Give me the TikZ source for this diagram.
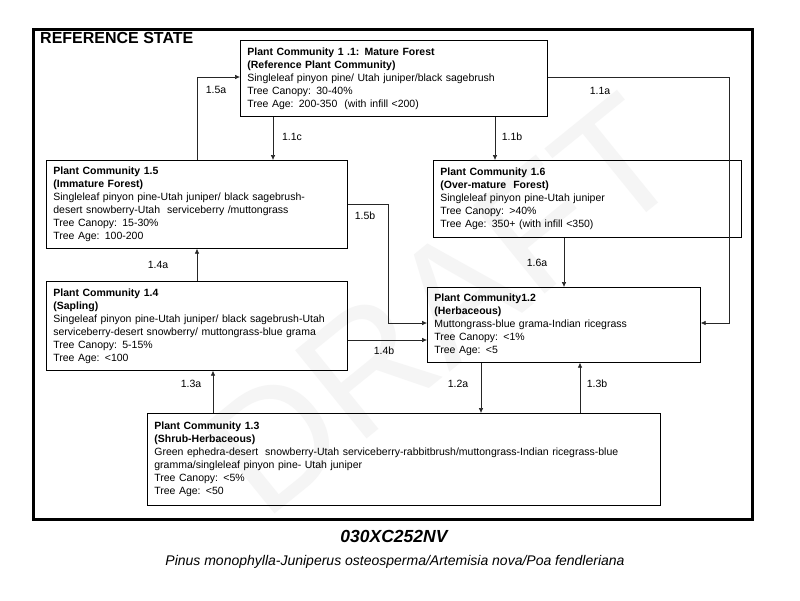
\documentclass[tikz,border=0pt]{standalone}
\usepackage{fontspec}
\setmainfont{Liberation Sans}
\usetikzlibrary{arrows.meta}
\begin{document}
\begin{tikzpicture}[x=1pt,y=-1pt,
  box/.style={draw=black,line width=0.7pt,rectangle,inner xsep=7pt,inner ysep=2pt,
    align=left,anchor=north west,font=\fontsize{10.5}{13}\selectfont},
  arr/.style={draw=black!85,line width=0.6pt,-{Latex[length=5pt,width=4.5pt]}},
  lbl/.style={font=\fontsize{10.5}{12}\selectfont,inner sep=0pt},
  frame/.style={draw=black,line width=3pt}]
\useasboundingbox (0,0) rectangle (800,600);
\fill[white] (0,0) rectangle (800,600);
% watermark
\node[rotate=39,font=\fontsize{165}{165}\selectfont,text=black!4,inner sep=0pt] (wm) at (442,305) {DRAFT};
% frame
\draw[frame] (33,29) rectangle (752,519);
\node[font=\fontsize{16}{16}\selectfont\bfseries,anchor=west,inner sep=0pt] (title) at (40,38) {REFERENCE STATE};
% boxes
\node[box,text width=293pt,minimum height=76pt] (n11) at (240,40)
 {\textbf{Plant Community 1 .1: Mature Forest}\\\textbf{(Reference Plant Community)}\\Singleleaf pinyon pine/ Utah juniper/black sagebrush\\Tree Canopy: 30-40\%\\Tree Age: 200-350\ \ (with infill <200)};
\node[box,text width=287pt,minimum height=88pt] (n15) at (46,160)
 {\textbf{Plant Community 1.5}\\\textbf{(Immature Forest)}\\Singleleaf pinyon pine-Utah juniper/ black sagebrush-\\desert snowberry-Utah\ \ serviceberry /muttongrass\\Tree Canopy: 15-30\%\\Tree Age: 100-200};
\node[box,text width=294pt,minimum height=77pt] (n16) at (433,160)
 {\textbf{Plant Community 1.6}\\\textbf{(Over-mature\ \ Forest)}\\Singleleaf pinyon pine-Utah juniper\\Tree Canopy: >40\%\\Tree Age: 350+ (with infill <350)};
\node[box,text width=287pt,minimum height=89pt] (n14) at (46,281)
 {\textbf{Plant Community 1.4}\\\textbf{(Sapling)}\\Singeleaf pinyon pine-Utah juniper/ black sagebrush-Utah\\serviceberry-desert snowberry/ muttongrass-blue grama\\Tree Canopy: 5-15\%\\Tree Age: <100};
\node[box,text width=259pt,minimum height=75pt] (n12) at (427,287)
 {\textbf{Plant Community1.2}\\\textbf{(Herbaceous)}\\Muttongrass-blue grama-Indian ricegrass\\Tree Canopy: <1\%\\Tree Age: <5};
\node[box,text width=499pt,minimum height=92pt] (n13) at (147,413)
 {\textbf{Plant Community 1.3}\\\textbf{(Shrub-Herbaceous)}\\Green ephedra-desert\ \ snowberry-Utah serviceberry-rabbitbrush/muttongrass-Indian ricegrass-blue\\gramma/singleleaf pinyon pine- Utah juniper\\Tree Canopy: <5\%\\Tree Age: <50};
% helper coordinates
\coordinate (c197) at (197,0);
\coordinate (c273) at (273,0);
\coordinate (c495) at (495,0);
\coordinate (c729) at (729,0);
\coordinate (c388) at (388,0);
\coordinate (c564) at (564,0);
\coordinate (c481) at (481,0);
\coordinate (c580) at (580,0);
\coordinate (c213) at (213,0);
\coordinate (y77) at (0,77);
\coordinate (y204) at (0,204);
\coordinate (y323) at (0,323);
\coordinate (y340) at (0,340);
% connectors
\draw[arr] (n15.north -| c197) |- (n11.west |- y77);
\draw[arr] (n11.south -| c273) -- (n15.north -| c273);
\draw[arr] (n11.south -| c495) -- (n16.north -| c495);
\draw[arr] (n11.east |- y77) -| (c729 |- y323) -- (n12.east |- y323);
\draw[arr] (n15.east |- y204) -| (c388 |- y323) -- (n12.west |- y323);
\draw[arr] (n14.east |- y340) -- (n12.west |- y340);
\draw[arr] (n14.north -| c197) -- (n15.south -| c197);
\draw[arr] (n16.south -| c564) -- (n12.north -| c564);
\draw[arr] (n12.south -| c481) -- (n13.north -| c481);
\draw[arr] (n13.north -| c580) -- (n12.south -| c580);
\draw[arr] (n13.north -| c213) -- (n14.south -| c213);
% labels
\node[lbl] (l15a) at (216,90) {1.5a};
\node[lbl] (l11c) at (292,137) {1.1c};
\node[lbl] (l11b) at (512,137) {1.1b};
\node[lbl] (l11a) at (600,91) {1.1a};
\node[lbl] (l15b) at (365,216) {1.5b};
\node[lbl] (l14a) at (158,265) {1.4a};
\node[lbl] (l16a) at (537,263) {1.6a};
\node[lbl] (l14b) at (384,351) {1.4b};
\node[lbl] (l13a) at (191,384) {1.3a};
\node[lbl] (l12a) at (458,384) {1.2a};
\node[lbl] (l13b) at (597,384) {1.3b};
% bottom titles
\node[font=\fontsize{17.5}{17.5}\selectfont\bfseries\itshape,inner sep=0pt] (code) at (394,536) {030XC252NV};
\node[font=\fontsize{14}{14}\selectfont\itshape,inner sep=0pt] (sub) at (395,562) {Pinus monophylla-Juniperus osteosperma/Artemisia nova/Poa fendleriana};
\end{tikzpicture}
\end{document}
